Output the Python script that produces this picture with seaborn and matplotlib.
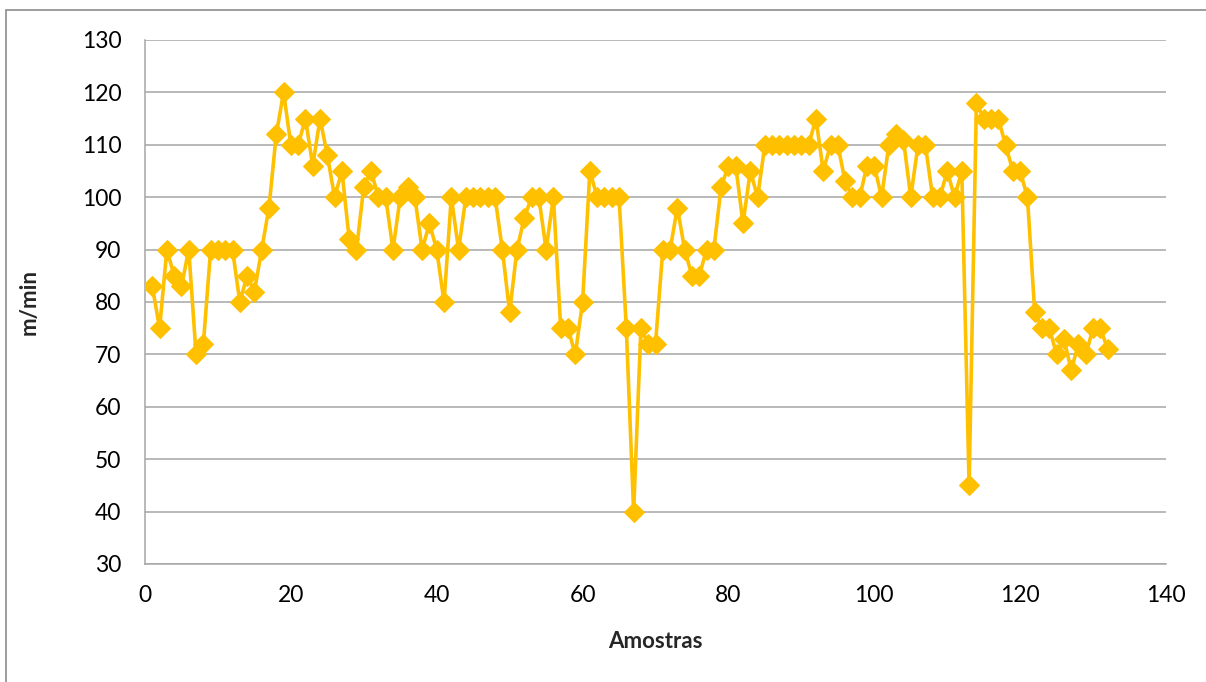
import matplotlib
matplotlib.use("Agg")
import matplotlib.pyplot as plt
import seaborn as sns
import pandas as pd
from matplotlib.patches import Rectangle

samples = list(range(1, 133))
speed = [83, 75, 90, 85, 83, 90, 70, 72, 90, 90,
         90, 90, 80, 85, 82, 90, 98, 112, 120, 110,
         110, 115, 106, 115, 108, 100, 105, 92, 90, 102,
         105, 100, 100, 90, 100, 102, 100, 90, 95, 90,
         80, 100, 90, 100, 100, 100, 100, 100, 90, 78,
         90, 96, 100, 100, 90, 100, 75, 75, 70, 80,
         105, 100, 100, 100, 100, 75, 40, 75, 72, 72,
         90, 90, 98, 90, 85, 85, 90, 90, 102, 106,
         106, 95, 105, 100, 110, 110, 110, 110, 110, 110,
         110, 115, 105, 110, 110, 103, 100, 100, 106, 106,
         100, 110, 112, 111, 100, 110, 110, 100, 100, 105,
         100, 105, 45, 118, 115, 115, 115, 110, 105, 105,
         100, 78, 75, 75, 70, 73, 67, 72, 70, 75,
         75, 71]
x_ticks = [0, 20, 40, 60, 80, 100, 120, 140]
y_ticks = [30, 40, 50, 60, 70, 80, 90, 100, 110, 120, 130]

df = pd.DataFrame({"Amostras": samples, "m/min": speed})

sns.set_theme(style="white")
plt.rcParams['font.family'] = ['Lato', 'DejaVu Sans']

W, H = 1206, 682
fig = plt.figure(figsize=(W / 100, H / 100), dpi=100)
ax = fig.add_axes([145 / W, 1 - 564 / H, (1166 - 145) / W, (564 - 40) / H])

grid_c = "#A6A6A6"
sns.lineplot(data=df, x="Amostras", y="m/min", ax=ax, color="#FFC000",
             linewidth=2.6, marker="D", markersize=10,
             markeredgecolor="#FFC000", markerfacecolor="#FFC000", zorder=3)

ax.set_xlim(0, 140)
ax.set_ylim(30, 130)
ax.set_xticks(x_ticks)
ax.set_yticks(y_ticks)
ax.tick_params(axis="both", labelsize=16.5, colors="black", length=7,
               width=1, direction="out")
ax.tick_params(axis="x", color=grid_c, pad=8)
ax.tick_params(axis="y", color=grid_c, pad=10)
ax.yaxis.grid(True, color=grid_c, linewidth=1.1)
ax.xaxis.grid(False)
for s in ["top", "right"]:
    ax.spines[s].set_visible(False)
for s in ["left", "bottom"]:
    ax.spines[s].set_color(grid_c)
    ax.spines[s].set_linewidth(1.1)

ax.set_xlabel("Amostras", fontsize=16, fontweight="bold", labelpad=18)
ax.set_ylabel("m/min", fontsize=16, fontweight="bold", labelpad=30)

fig.patches.append(Rectangle((6 / W, -0.1), 1.2, 1 - 10 / H + 0.1,
                             transform=fig.transFigure, fill=False,
                             edgecolor="#8C8C8C", linewidth=1.2))

fig.savefig("out.png", dpi=100, facecolor="white")
